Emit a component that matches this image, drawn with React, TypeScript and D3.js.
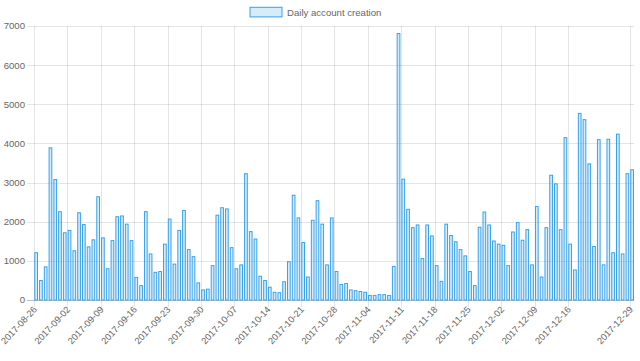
import * as d3 from "d3";
import { useEffect } from "react";

// daily counts, one per day starting at startDay
const startDay = "2017-08-26";
const accountsPerDay = [
  1220, 510, 860, 3900, 3090, 2270, 1730, 1790, 1270, 2240, 1940, 1370, 1550, 2650,
  1600, 810, 1530, 2140, 2160, 1950, 1530, 590, 380, 2270, 1190, 720, 740, 1440,
  2080, 930, 1790, 2300, 1300, 1120, 450, 270, 290, 890, 2180, 2370, 2340, 1350,
  810, 910, 3240, 1760, 1570, 620, 510, 340, 210, 200, 480, 990, 2690, 2110,
  1480, 600, 2050, 2550, 1950, 910, 2110, 740, 410, 435, 270, 250, 230, 210,
  130, 130, 150, 150, 130, 870, 6820, 3100, 2330, 1860, 1930, 1070, 1930, 1650,
  890, 490, 1950, 1660, 1500, 1300, 1140, 740, 380, 1870, 2260, 1930, 1520, 1440,
  1410, 890, 1750, 1990, 1540, 1810, 910, 2400, 600, 1860, 3200, 2980, 1810, 4160,
  1440, 780, 4780, 4620, 3490, 1380, 4110, 910, 4120, 1220, 4250, 1190, 3240, 3340,
];
const xTickLabels = [
  "2017-08-26", "2017-09-02", "2017-09-09", "2017-09-16", "2017-09-23", "2017-09-30",
  "2017-10-07", "2017-10-14", "2017-10-21", "2017-10-28", "2017-11-04", "2017-11-11",
  "2017-11-18", "2017-11-25", "2017-12-02", "2017-12-09", "2017-12-16", "2017-12-29",
];
const yTicks = [0, 1000, 2000, 3000, 4000, 5000, 6000, 7000];
const seriesName = "Daily account creation";

const width = 640;
const height = 361;
const left = 34;
const right = 630;
const top = 26;
const bottom = 300;
const font = "'Helvetica Neue', Helvetica, Arial, sans-serif";
const fs = 9.6;

export default function App() {
  useEffect(() => {
    document.body.style.margin = "0";
  }, []);

  const parse = d3.utcParse("%Y-%m-%d");
  const start = parse(startDay) as Date;
  const days = accountsPerDay.map((_, i) => d3.utcDay.offset(start, i));
  const ticks = xTickLabels.map((s) => parse(s) as Date);

  const x = d3.scaleUtc().domain([start, ticks[ticks.length - 1]]).range([left, right]);
  const y = d3.scaleLinear().domain([0, 7000]).range([bottom, top]);
  const barW = 3.7;

  return (
    <svg width={width} height={height} style={{ display: "block" }}>
      {/* legend */}
      <rect x={250} y={7.3} width={32} height={9.6} fill="rgba(54,162,235,0.2)" stroke="rgb(54,162,235)" />
      <text x={287} y={15.6} fontFamily={font} fontSize={fs} fill="#666">
        {seriesName}
      </text>

      {/* horizontal grid + y labels */}
      {yTicks.map((t) => (
        <g key={t}>
          <line x1={27} x2={634} y1={Math.round(y(t)) + 0.5} y2={Math.round(y(t)) + 0.5}
            stroke={t === 0 ? "rgba(0,0,0,0.25)" : "rgba(0,0,0,0.1)"} />
          <text x={25} y={y(t) + 3.4} textAnchor="end"
            fontFamily={font} fontSize={fs} fill="#666">
            {t}
          </text>
        </g>
      ))}

      {/* vertical grid + x labels */}
      {ticks.map((d, i) => (
        <g key={i}>
          <line x1={Math.round(x(d)) + 0.5} x2={Math.round(x(d)) + 0.5} y1={top} y2={bottom + 7}
            stroke="rgba(0,0,0,0.1)" />
          <text transform={`translate(${x(d) + 3.5},${bottom + 10}) rotate(-47)`}
            textAnchor="end" fontFamily={font} fontSize={9.3} fill="#666">
            {xTickLabels[i]}
          </text>
        </g>
      ))}

      {/* bars */}
      {accountsPerDay.map((v, i) => (
        <rect key={i} x={x(days[i]) + 0.8} y={y(v) + 0.5} width={barW - 1}
          height={bottom - y(v) - 0.5}
          fill="rgba(54,162,235,0.2)" stroke="rgb(54,162,235)" strokeWidth={1} />
      ))}
    </svg>
  );
}
